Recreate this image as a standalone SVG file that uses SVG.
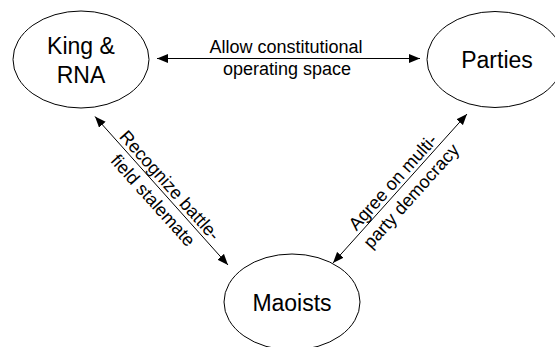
<svg xmlns="http://www.w3.org/2000/svg" width="555" height="347" viewBox="0 0 555 347">
<defs>
<style>
.node{fill:#fff;stroke:#000;stroke-width:1}
.nl{font-family:"Liberation Sans",Arial,sans-serif;font-size:23px;fill:#000;text-anchor:middle}
.el{font-family:"Liberation Sans",Arial,sans-serif;font-size:18px;fill:#000;text-anchor:middle}
.conn{stroke:#000;stroke-width:1;fill:none;marker-start:url(#ah);marker-end:url(#ah)}
</style>
<marker id="ah" markerUnits="userSpaceOnUse" markerWidth="11" markerHeight="9" refX="10" refY="4" orient="auto-start-reverse" viewBox="0 0 10 8">
<path d="M0,0 L10,4 L0,8 z" fill="#000"/>
</marker>
</defs>
<rect width="555" height="347" fill="#fff"/>
<g id="king">
<ellipse class="node" cx="81" cy="59.5" rx="68" ry="48.5"/>
<text class="nl" x="81" y="54">King &amp;</text>
<text class="nl" x="81" y="83">RNA</text>
</g>
<g id="parties">
<ellipse class="node" cx="495" cy="59.5" rx="68" ry="48"/>
<text class="nl" x="497" y="68">Parties</text>
</g>
<g id="maoists">
<ellipse class="node" cx="292" cy="302" rx="68" ry="48"/>
<text class="nl" x="292" y="311">Maoists</text>
</g>
<g id="connectors">
<line class="conn" x1="157" y1="58.5" x2="420" y2="58.5"/>
<line class="conn" x1="95" y1="116.5" x2="228" y2="265"/>
<line class="conn" x1="467" y1="114" x2="333" y2="263"/>
<text class="el" x="286" y="52.5">Allow constitutional</text>
<text class="el" x="287" y="75">operating space</text>
<g transform="translate(163,191.5) rotate(48.1)">
<text class="el" x="0" y="-3">Recognize battle-</text>
<text class="el" x="0" y="19.5">field stalemate</text>
</g>
<g transform="translate(400,188.5) rotate(-48)">
<text class="el" x="0" y="-3.5">Agree on multi-</text>
<text class="el" x="2" y="19.5">party democracy</text>
</g>
</g>
</svg>
